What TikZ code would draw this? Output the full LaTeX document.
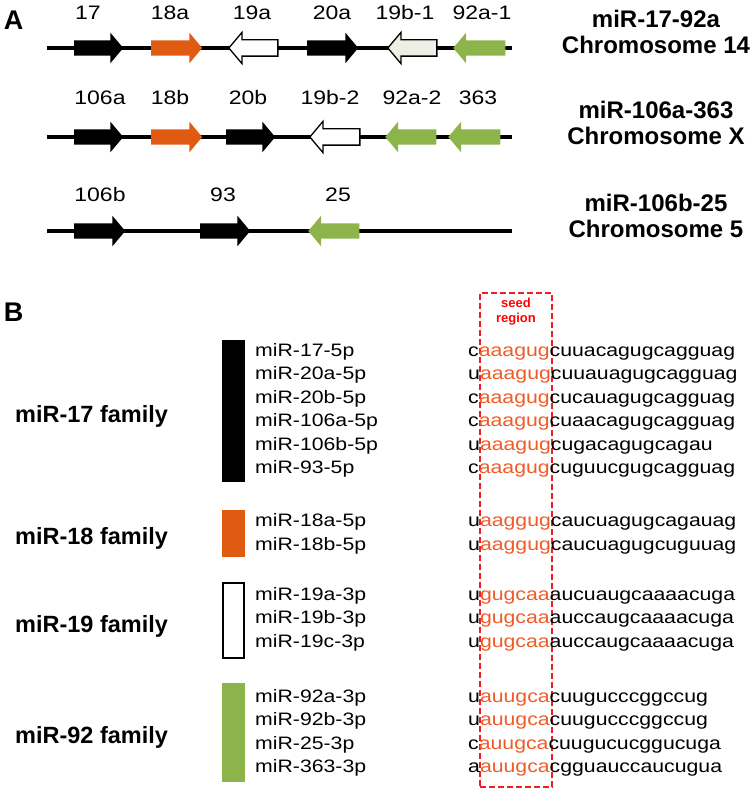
\documentclass[tikz,border=0pt]{standalone}
\usepackage{fontspec}
\setmainfont{Liberation Sans}
\newfontfamily\widesans[FakeStretch=1.18]{Liberation Sans}
\usetikzlibrary{shapes.arrows}
\definecolor{genorange}{RGB}{224,90,18}
\definecolor{gengreen}{RGB}{141,180,74}
\definecolor{genbeige}{RGB}{238,238,228}
\definecolor{seedtext}{RGB}{240,92,40}
\definecolor{seedline}{RGB}{238,30,36}
\newcommand{\seedpart}[1]{\textcolor{seedtext}{#1}}

\begin{document}
\begin{tikzpicture}[x=1pt, y=-1pt,
    gene/.style={single arrow, inner xsep=0pt, inner ysep=7.5pt, minimum width=0pt,
      single arrow head extend=7.5pt, single arrow tip angle=100, minimum height=#1},
    fwd/.style={gene=#1, anchor=tail},
    rev/.style={gene=#1, anchor=tip, shape border rotate=180},
    chrom/.style={line width=4.5pt},
    glabel/.style={font=\widesans\fontsize{19.5}{22}\selectfont, inner sep=0pt},
    cluster/.style={font=\bfseries\fontsize{24}{26}\selectfont, align=center, inner sep=0pt},
    panel/.style={font=\bfseries\fontsize{27}{30}\selectfont, inner sep=0pt},
    famkey/.style={minimum width=23pt, inner sep=0pt, outer sep=0pt},
    family/.style={font=\bfseries\fontsize{23.5}{26}\selectfont, anchor=base west, inner sep=0pt},
    mirname/.style={font=\widesans\fontsize{18}{21}\selectfont, anchor=base west, inner sep=0pt},
    mirseq/.style={mirname}]
  \useasboundingbox (0,0) rectangle (754,791);

  % panel A: the three clusters
  \node[panel] (pA) at (13.5,20) {A};

  % miR-17-92a
  \coordinate (c1l) at (47,48);
  \coordinate (c1r) at (512,48);
  \draw[chrom] (c1l) -- (c1r);
  \node[fwd=49pt, fill=black] (g17) at (74,48) {};
  \node[fwd=51pt, fill=genorange] (g18a) at (151,48) {};
  \node[rev=49pt, draw=black, line width=1.3pt, fill=white] (g19a) at (228,48) {};
  \node[fwd=51pt, fill=black] (g20a) at (307,48) {};
  \node[rev=49pt, draw=black, line width=1.3pt, fill=genbeige] (g19b1) at (387,48) {};
  \node[rev=52pt, fill=gengreen] (g92a1) at (453,48) {};
  \node[glabel] (l17) at (88,13) {17};
  \node[glabel] (l18a) at (170,13) {18a};
  \node[glabel] (l19a) at (252,13) {19a};
  \node[glabel] (l20a) at (332,13) {20a};
  \node[glabel] (l19b1) at (405,13) {19b-1};
  \node[glabel] (l92a1) at (482,13) {92a-1};
  \node[cluster] (t1) at (656,31.5) {miR-17-92a\\Chromosome 14};

  % miR-106a-363
  \coordinate (c2l) at (47,137);
  \coordinate (c2r) at (512,137);
  \draw[chrom] (c2l) -- (c2r);
  \node[fwd=49pt, fill=black] (g106a) at (74,137) {};
  \node[fwd=51pt, fill=genorange] (g18b) at (151,137) {};
  \node[fwd=49pt, fill=black] (g20b) at (226,137) {};
  \node[rev=50pt, draw=black, line width=1.3pt, fill=white] (g19b2) at (309,137) {};
  \node[rev=51pt, fill=gengreen] (g92a2) at (385,137) {};
  \node[rev=52pt, fill=gengreen] (g363) at (448,137) {};
  \node[glabel] (l106a) at (100,98) {106a};
  \node[glabel] (l18b) at (170,98) {18b};
  \node[glabel] (l20b) at (248,98) {20b};
  \node[glabel] (l19b2) at (330,98) {19b-2};
  \node[glabel] (l92a2) at (412,98) {92a-2};
  \node[glabel] (l363) at (478,98) {363};
  \node[cluster] (t2) at (656,122.5) {miR-106a-363\\Chromosome X};

  % miR-106b-25
  \coordinate (c3l) at (47,231);
  \coordinate (c3r) at (512,231);
  \draw[chrom] (c3l) -- (c3r);
  \node[fwd=51pt, fill=black] (g106b) at (74,231) {};
  \node[fwd=50pt, fill=black] (g93) at (200,231) {};
  \node[rev=51pt, fill=gengreen] (g25) at (308,231) {};
  \node[glabel] (l106b) at (100,195) {106b};
  \node[glabel] (l93) at (223,195) {93};
  \node[glabel] (l25) at (338,195) {25};
  \node[cluster] (t3) at (656,216) {miR-106b-25\\Chromosome 5};

  % panel B: families and seed sequences
  \node[panel] (pB) at (13.5,312) {B};
  \node[draw=seedline, dash pattern=on 6pt off 3pt, line width=1.8pt,
    minimum width=72pt, minimum height=494pt, inner sep=0pt] (seedbox) at (516,540) {};
  \node[font=\bfseries\fontsize{13}{15}\selectfont, text=red, align=center, inner sep=0pt]
    (seedlab) at (516,311.5) {seed\\region};

  \node[famkey, fill=black, minimum height=142pt] (k17) at (233.5,411) {};
  \node[famkey, fill=genorange, minimum height=47pt] (k18) at (233.5,533.5) {};
  \node[famkey, draw=black, line width=1.5pt, fill=white, minimum width=21pt,
    minimum height=75pt] (k19) at (233.5,620.5) {};
  \node[famkey, fill=gengreen, minimum height=99pt] (k92) at (233.5,732.5) {};
  \node[family] (f17) at (15,422) {miR-17 family};
  \node[family] (f18) at (15,544) {miR-18 family};
  \node[family] (f19) at (15,632) {miR-19 family};
  \node[family] (f92) at (15,743) {miR-92 family};

  % miR-17 family
  \node[mirname] (n17) at (255,356) {miR-17-5p};
  \node[mirname] (n20a) at (255,379.5) {miR-20a-5p};
  \node[mirname] (n20b) at (255,403) {miR-20b-5p};
  \node[mirname] (n106a) at (255,426.5) {miR-106a-5p};
  \node[mirname] (n106b) at (255,450) {miR-106b-5p};
  \node[mirname] (n93) at (255,473.5) {miR-93-5p};
  \node[mirseq] (s17) at (468,356) {c\seedpart{aaagug}cuuacagugcagguag};
  \node[mirseq] (s20a) at (468,379.5) {u\seedpart{aaagug}cuuauagugcagguag};
  \node[mirseq] (s20b) at (468,403) {c\seedpart{aaagug}cucauagugcagguag};
  \node[mirseq] (s106a) at (468,426.5) {c\seedpart{aaagug}cuaacagugcagguag};
  \node[mirseq] (s106b) at (468,450) {u\seedpart{aaagug}cugacagugcagau};
  \node[mirseq] (s93) at (468,473.5) {c\seedpart{aaagug}cuguucgugcagguag};

  % miR-18 family
  \node[mirname] (n18a) at (255,526.5) {miR-18a-5p};
  \node[mirname] (n18b) at (255,550) {miR-18b-5p};
  \node[mirseq] (s18a) at (468,526.5) {u\seedpart{aaggug}caucuagugcagauag};
  \node[mirseq] (s18b) at (468,550) {u\seedpart{aaggug}caucuagugcuguuag};

  % miR-19 family
  \node[mirname] (n19a) at (255,600) {miR-19a-3p};
  \node[mirname] (n19b) at (255,623.5) {miR-19b-3p};
  \node[mirname] (n19c) at (255,647) {miR-19c-3p};
  \node[mirseq] (s19a) at (468,600) {u\seedpart{gugcaa}aucuaugcaaaacuga};
  \node[mirseq] (s19b) at (468,623.5) {u\seedpart{gugcaa}auccaugcaaaacuga};
  \node[mirseq] (s19c) at (468,647) {u\seedpart{gugcaa}auccaugcaaaacuga};

  % miR-92 family
  \node[mirname] (n92a) at (255,702) {miR-92a-3p};
  \node[mirname] (n92b) at (255,725.5) {miR-92b-3p};
  \node[mirname] (n25) at (255,749) {miR-25-3p};
  \node[mirname] (n363) at (255,772.5) {miR-363-3p};
  \node[mirseq] (s92a) at (468,702) {u\seedpart{auugca}cuugucccggccug};
  \node[mirseq] (s92b) at (468,725.5) {u\seedpart{auugca}cuugucccggccug};
  \node[mirseq] (s25) at (468,749) {c\seedpart{auugca}cuugucucggucuga};
  \node[mirseq] (s363) at (468,772.5) {a\seedpart{auugca}cgguauccaucugua};
\end{tikzpicture}
\end{document}
